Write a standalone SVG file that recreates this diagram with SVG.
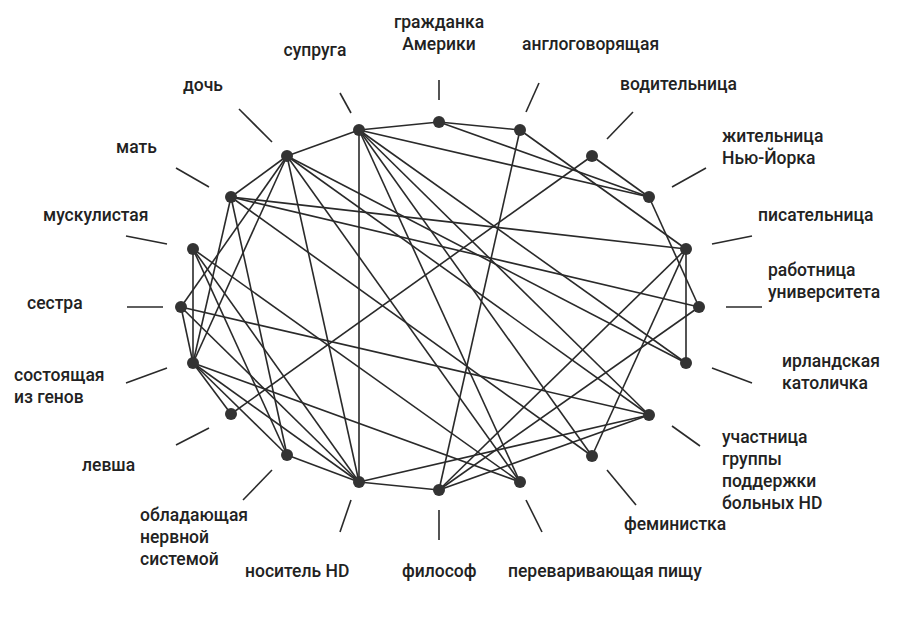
<svg xmlns="http://www.w3.org/2000/svg" width="900" height="617" viewBox="0 0 900 617">
<style>
.e line{stroke:#2a2a2a;stroke-width:1.6}
.t{stroke:#2a2a2a;stroke-width:1.6}
circle{fill:#333}
text{font-family:Roboto,"Open Sans","Liberation Sans",sans-serif;font-weight:500;font-size:17.5px;fill:#222}
</style>
<rect width="900" height="617" fill="#fff"/>
<g id="connectors" class="e">
<line x1="359" y1="130" x2="439" y2="122"/>
<line x1="439" y1="122" x2="520" y2="130"/>
<line x1="439" y1="122" x2="649" y2="197"/>
<line x1="520" y1="130" x2="686" y2="249"/>
<line x1="520" y1="130" x2="439" y2="490"/>
<line x1="592" y1="156" x2="649" y2="197"/>
<line x1="592" y1="156" x2="231" y2="414"/>
<line x1="649" y1="197" x2="699" y2="307"/>
<line x1="359" y1="130" x2="649" y2="197"/>
<line x1="359" y1="130" x2="287" y2="156"/>
<line x1="359" y1="130" x2="359" y2="482"/>
<line x1="359" y1="130" x2="686" y2="363"/>
<line x1="359" y1="130" x2="649" y2="415"/>
<line x1="359" y1="130" x2="592" y2="456"/>
<line x1="359" y1="130" x2="520" y2="482"/>
<line x1="287" y1="156" x2="231" y2="197"/>
<line x1="287" y1="156" x2="193" y2="363"/>
<line x1="287" y1="156" x2="181" y2="307"/>
<line x1="287" y1="156" x2="359" y2="482"/>
<line x1="287" y1="156" x2="686" y2="363"/>
<line x1="287" y1="156" x2="649" y2="415"/>
<line x1="287" y1="156" x2="520" y2="482"/>
<line x1="231" y1="197" x2="193" y2="363"/>
<line x1="231" y1="197" x2="287" y2="455"/>
<line x1="231" y1="197" x2="686" y2="249"/>
<line x1="231" y1="197" x2="699" y2="307"/>
<line x1="231" y1="197" x2="592" y2="456"/>
<line x1="193" y1="249" x2="193" y2="363"/>
<line x1="193" y1="249" x2="520" y2="482"/>
<line x1="193" y1="249" x2="359" y2="482"/>
<line x1="193" y1="249" x2="287" y2="455"/>
<line x1="181" y1="307" x2="193" y2="363"/>
<line x1="181" y1="307" x2="649" y2="415"/>
<line x1="181" y1="307" x2="359" y2="482"/>
<line x1="193" y1="363" x2="231" y2="414"/>
<line x1="193" y1="363" x2="287" y2="455"/>
<line x1="193" y1="363" x2="359" y2="482"/>
<line x1="193" y1="363" x2="520" y2="482"/>
<line x1="287" y1="455" x2="359" y2="482"/>
<line x1="359" y1="482" x2="649" y2="415"/>
<line x1="359" y1="482" x2="439" y2="490"/>
<line x1="439" y1="490" x2="686" y2="249"/>
<line x1="439" y1="490" x2="699" y2="307"/>
<line x1="439" y1="490" x2="649" y2="415"/>
<line x1="686" y1="249" x2="686" y2="363"/>
<line x1="686" y1="249" x2="592" y2="456"/>
</g>
<g id="ticks" class="t">
<line x1="439" y1="100" x2="439" y2="80"/>
<line x1="351" y1="113" x2="340" y2="93"/>
<line x1="526" y1="112" x2="539" y2="83"/>
<line x1="607" y1="139" x2="633" y2="112"/>
<line x1="672" y1="187" x2="706" y2="168"/>
<line x1="712" y1="244" x2="752" y2="236"/>
<line x1="726" y1="307" x2="762" y2="307"/>
<line x1="712" y1="368" x2="752" y2="383"/>
<line x1="672" y1="426" x2="700" y2="446"/>
<line x1="607" y1="470" x2="636" y2="505"/>
<line x1="526" y1="500" x2="542" y2="532"/>
<line x1="439" y1="510" x2="439" y2="540"/>
<line x1="351" y1="500" x2="340" y2="532"/>
<line x1="272" y1="470" x2="243" y2="500"/>
<line x1="209" y1="428" x2="176" y2="445"/>
<line x1="167" y1="368" x2="126" y2="383"/>
<line x1="163" y1="307" x2="127" y2="307"/>
<line x1="167" y1="244" x2="126" y2="236"/>
<line x1="209" y1="187" x2="176" y2="168"/>
<line x1="272" y1="142" x2="239" y2="109"/>
</g>
<g id="n-grazhdanka"><circle cx="439" cy="122" r="6"/><text x="439" y="28" text-anchor="middle">гражданка</text><text x="439" y="50" text-anchor="middle">Америки</text></g>
<g id="n-angl"><circle cx="520" cy="130" r="6"/><text x="522" y="50">англоговорящая</text></g>
<g id="n-vodit"><circle cx="592" cy="156" r="6"/><text x="620" y="90">водительница</text></g>
<g id="n-zhit"><circle cx="649" cy="197" r="6"/><text x="722" y="142">жительница</text><text x="722" y="164">Нью-Йорка</text></g>
<g id="n-pisat"><circle cx="686" cy="249" r="6"/><text x="758" y="221">писательница</text></g>
<g id="n-rabot"><circle cx="699" cy="307" r="6"/><text x="768" y="276">работница</text><text x="768" y="298">университета</text></g>
<g id="n-irl"><circle cx="686" cy="363" r="6"/><text x="782" y="367">ирландская</text><text x="782" y="389">католичка</text></g>
<g id="n-uch"><circle cx="649" cy="415" r="6"/><text x="722" y="443">участница</text><text x="722" y="465">группы</text><text x="722" y="487">поддержки</text><text x="722" y="509">больных HD</text></g>
<g id="n-fem"><circle cx="592" cy="456" r="6"/><text x="624" y="530">феминистка</text></g>
<g id="n-perev"><circle cx="520" cy="482" r="6"/><text x="508" y="577">переваривающая пищу</text></g>
<g id="n-filosof"><circle cx="439" cy="490" r="6"/><text x="402" y="577">философ</text></g>
<g id="n-nositel"><circle cx="359" cy="482" r="6"/><text x="245" y="577">носитель HD</text></g>
<g id="n-oblad"><circle cx="287" cy="455" r="6"/><text x="140" y="521">обладающая</text><text x="140" y="543">нервной</text><text x="140" y="565">системой</text></g>
<g id="n-levsha"><circle cx="231" cy="414" r="6"/><text x="82" y="471">левша</text></g>
<g id="n-sost"><circle cx="193" cy="363" r="6"/><text x="14" y="381">состоящая</text><text x="14" y="403">из генов</text></g>
<g id="n-sestra"><circle cx="181" cy="307" r="6"/><text x="27" y="309">сестра</text></g>
<g id="n-musk"><circle cx="193" cy="249" r="6"/><text x="43" y="221">мускулистая</text></g>
<g id="n-mat"><circle cx="231" cy="197" r="6"/><text x="116" y="153">мать</text></g>
<g id="n-doch"><circle cx="287" cy="156" r="6"/><text x="183" y="91">дочь</text></g>
<g id="n-supruga"><circle cx="359" cy="130" r="6"/><text x="315" y="56" text-anchor="middle">супруга</text></g>
</svg>
